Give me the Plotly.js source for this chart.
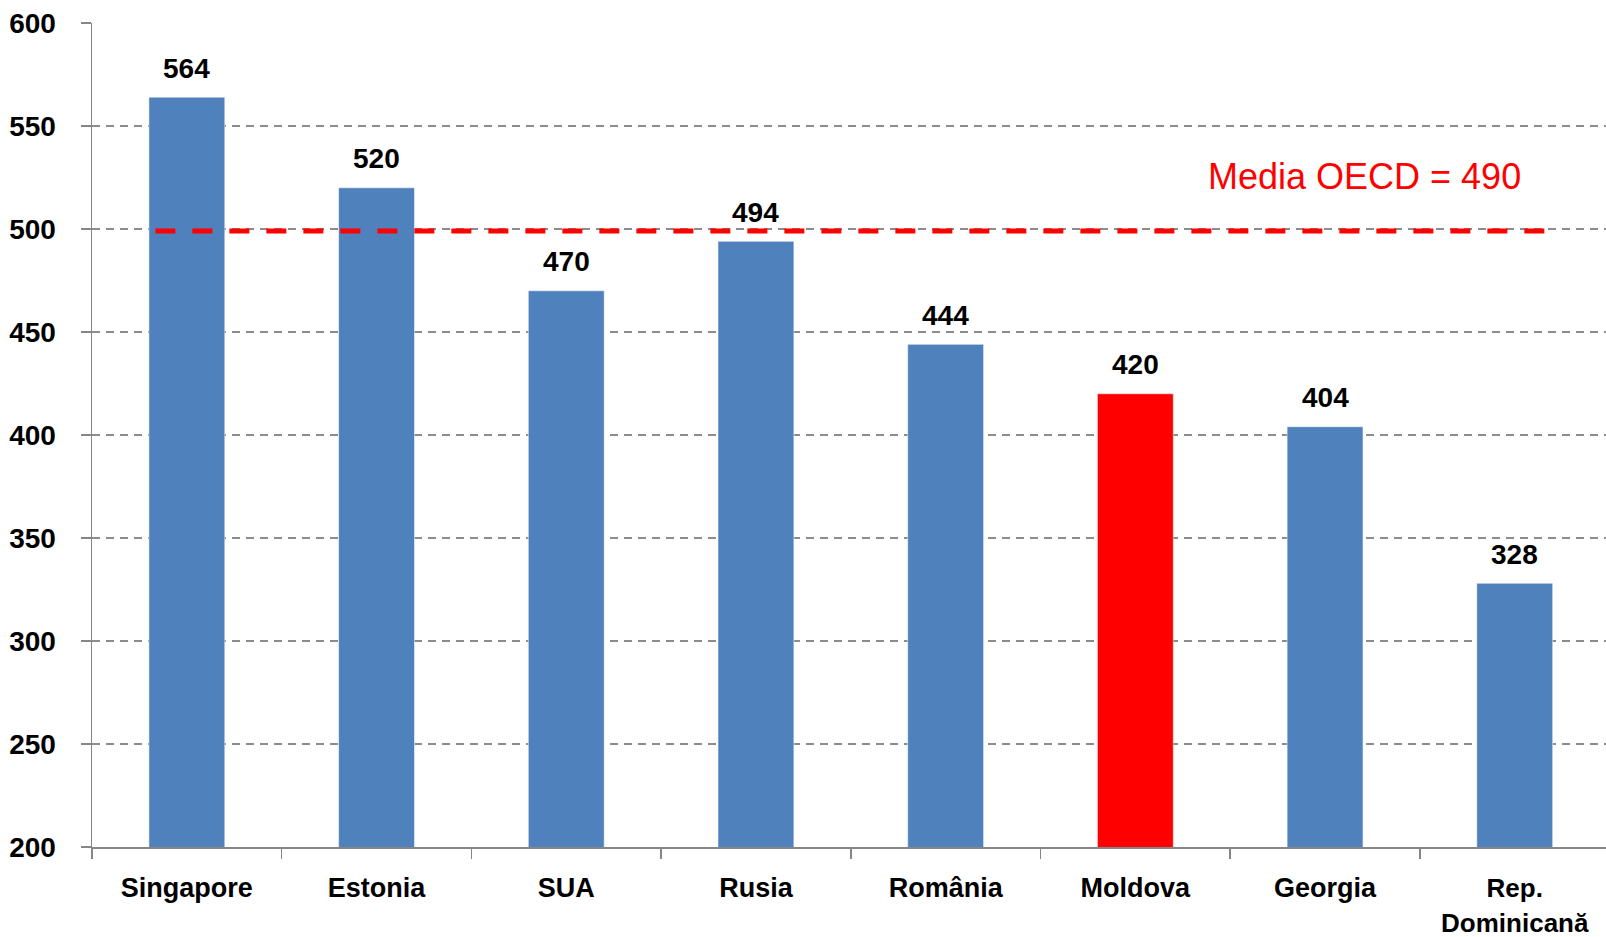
<!DOCTYPE html>
<html><head><meta charset="utf-8">
<script src="https://cdn.plot.ly/plotly-3.0.1.min.js"></script>
<style>html,body{margin:0;padding:0;background:#fff}#chart{width:1606px;height:937px}</style>
</head><body><div id="chart"></div>
<script>
const categories = ["Singapore", "Estonia", "SUA", "Rusia", "România", "Moldova", "Georgia", "Rep. Dominicană"];
const tickLabels = ["Singapore", "Estonia", "SUA", "Rusia", "România", "Moldova", "Georgia", "<span style='font-size:26px'>Rep.<br>Dominicană</span>"];
const scores = [564, 520, 470, 494, 444, 420, 404, 328];
const highlight = "Moldova";
const oecdLineValue = 499;
const oecdLabel = "Media OECD = 490";

const barColors = categories.map(c => c === highlight ? "#FF0000" : "#4F81BD");

const trace = {
  type: "bar", x: categories, y: scores, width: 0.4,
  marker: {color: barColors, line: {color: "rgba(255,255,255,0.5)", width: 1}},
  hoverinfo: "none"
};

const font = "'Liberation Sans', Arial, sans-serif";
const annotations = categories.map((c, i) => ({
  x: c, y: scores[i], xref: "x", yref: "y", text: "<b>" + scores[i] + "</b>",
  showarrow: false, yanchor: "middle", yshift: 29,
  font: {family: font, size: 28, color: "#000"}
}));
annotations.push({
  x: 6.21, y: 525.4, xref: "x", yref: "y", text: oecdLabel, showarrow: false,
  xanchor: "center", yanchor: "middle", font: {family: font, size: 36, color: "#FF0000"}
});

const layout = {
  width: 1606, height: 937,
  margin: {l: 92, r: 0, t: 23, b: 90},
  paper_bgcolor: "#fff", plot_bgcolor: "#fff",
  showlegend: false,
  bargap: 0.6,
  xaxis: {
    type: "category", range: [-0.5, 7.481],
    tickmode: "array", tickvals: categories, ticktext: tickLabels,
    tickson: "boundaries", ticks: "outside", ticklen: 10, tickcolor: "#868686", tickwidth: 1.5,
    showline: true, linecolor: "#868686", linewidth: 1.5,
    showgrid: false, tickangle: 0,
    ticklabelstandoff: 16,
    tickfont: {family: font, size: 27, color: "#000", weight: "bold"}
  },
  yaxis: {
    range: [200, 600], dtick: 50, tick0: 200,
    ticks: "outside", ticklen: 10, tickcolor: "#868686", tickwidth: 1.5,
    showline: true, linecolor: "#868686", linewidth: 1.5,
    showgrid: true, gridcolor: "#8c8c8c", gridwidth: 1.5, griddash: "8px,6px",
    zeroline: false, ticklabelstandoff: 19,
    tickfont: {family: font, size: 28, color: "#000", weight: "bold"}
  },
  shapes: [{
    type: "line", xref: "x", yref: "y", x0: -0.166, x1: 7.16, y0: oecdLineValue, y1: oecdLineValue,
    line: {color: "#FF0000", width: 5, dash: "20px,17px"}
  }],
  annotations: annotations
};

Plotly.newPlot("chart", [trace], layout, {displayModeBar: false, staticPlot: true});
</script>
</body></html>
